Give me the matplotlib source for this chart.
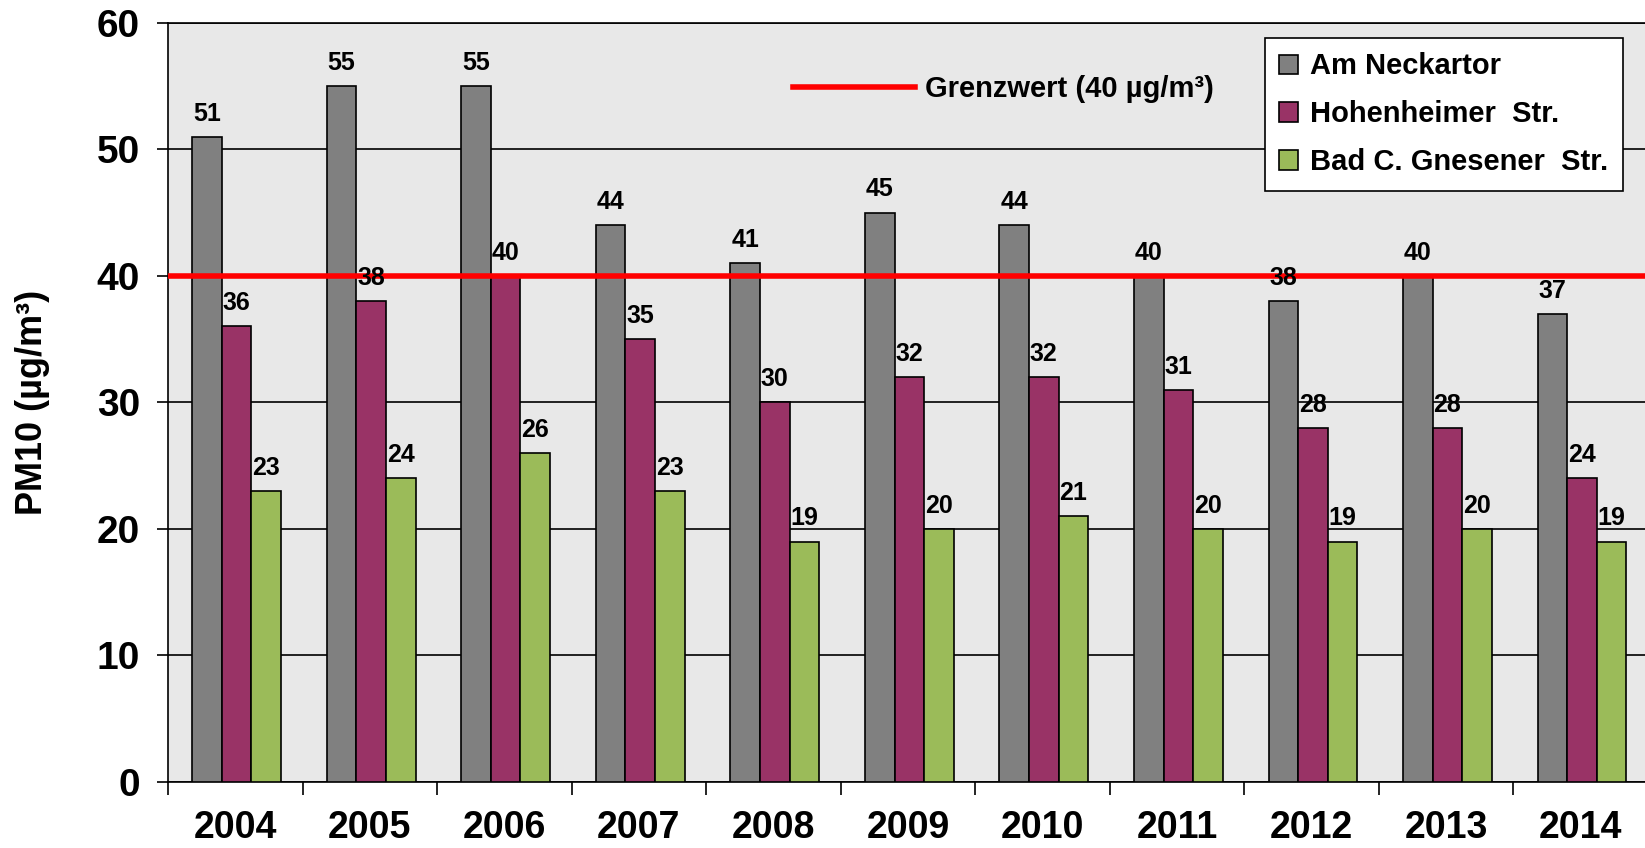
import matplotlib
matplotlib.use("Agg")
import matplotlib.pyplot as plt
import numpy as np

plt.rcParams['font.family'] = ['Liberation Sans', 'DejaVu Sans']
plt.rcParams['font.weight'] = 'bold'

years = ['2004', '2005', '2006', '2007', '2008', '2009', '2010', '2011', '2012', '2013', '2014']
neckartor = [51, 55, 55, 44, 41, 45, 44, 40, 38, 40, 37]
hohenheimer = [36, 38, 40, 35, 30, 32, 32, 31, 28, 28, 24]
gnesener = [23, 24, 26, 23, 19, 20, 21, 20, 19, 20, 19]
names = ['Am Neckartor', 'Hohenheimer  Str.', 'Bad C. Gnesener  Str.']
colors = ['#808080', '#993366', '#9bbb59']
grenzwert = 40

fig = plt.figure(figsize=(16.45, 8.48), dpi=100)
ax = fig.add_axes([0.1021, 0.0778, 0.8997, 0.8954])
ax.set_facecolor('#e8e8e8')

x = np.arange(len(years))
w = 0.22
bars = []
for i, (vals, name, c) in enumerate(zip([neckartor, hohenheimer, gnesener], names, colors)):
    pos = x + (i - 1) * w + 0.01
    b = ax.bar(pos, vals, w, color=c, edgecolor='black', linewidth=1.2, label=name, zorder=3)
    bars.append(b)
    for px, v in zip(pos, vals):
        ax.annotate(str(v), (px, v), xytext=(0, 8), textcoords='offset points',
                    ha='center', va='bottom', fontsize=18, fontweight='bold', zorder=5)

line = ax.axhline(grenzwert, color='#ff0000', linewidth=4, zorder=4,
                  label='Grenzwert (40 µg/m³)')

ax.set_ylim(0, 60)
ax.set_xlim(-0.5, len(years) - 0.5 - 0.04)
ax.set_yticks(range(0, 61, 10))
ax.yaxis.grid(True, color='black', linewidth=1.2, zorder=0)
ax.set_axisbelow(True)
ax.tick_params(axis='y', length=8, width=1.2, pad=12, labelsize=28)

ax.set_xticks(np.arange(-0.5, len(years), 1))
ax.set_xticklabels([])
ax.set_xticks(x, minor=True)
ax.set_xticklabels(years, minor=True)
ax.tick_params(axis='x', which='major', length=9.5, width=1.2)
ax.tick_params(axis='x', which='minor', length=0, pad=20, labelsize=27)

for s in ax.spines.values():
    s.set_linewidth(1.2)
    s.set_color('black')

ax.set_ylabel('PM10 (µg/m³)', fontsize=26, fontweight='bold')
ax.yaxis.set_label_coords(-0.08, 0.5)

leg = ax.legend(handles=bars, loc='upper right', bbox_to_anchor=(0.983, 0.980),
                borderaxespad=0, fontsize=21, fancybox=False, framealpha=1,
                edgecolor='black', handlelength=0.65, handleheight=0.65,
                handletextpad=0.4, labelspacing=0.68, borderpad=0.5)
leg.get_frame().set_linewidth(1.2)
ax.add_artist(leg)

leg2 = ax.legend(handles=[line], loc='center left', bbox_to_anchor=(0.422, 0.913),
                 borderaxespad=0, borderpad=0, frameon=False, fontsize=21,
                 handlelength=4.2, handletextpad=0.35)

fig.savefig('out.png', dpi=100)
